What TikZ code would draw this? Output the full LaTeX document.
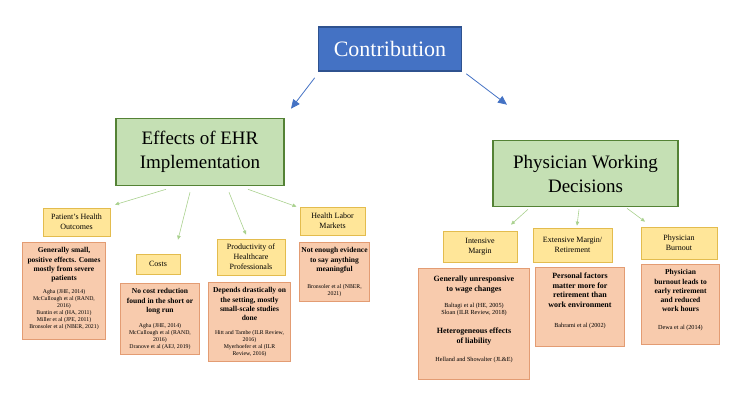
\documentclass[tikz,border=0pt]{standalone}
\usepackage{fontspec}
\setmainfont{Liberation Serif}
\usepackage{tikz}
\usetikzlibrary{positioning,arrows.meta,calc}

\definecolor{topfill}{HTML}{4472C4}
\definecolor{topline}{HTML}{2F528F}
\definecolor{areafill}{HTML}{C5E0B4}
\definecolor{arealine}{HTML}{548235}
\definecolor{topicfill}{HTML}{FFE699}
\definecolor{topicline}{HTML}{E3BC4E}
\definecolor{findfill}{HTML}{F8CBAD}
\definecolor{findline}{HTML}{E39C73}
\definecolor{greenarrow}{HTML}{A9D18E}

\tikzstyle{bline} = [draw=topfill, line width=0.8pt, -{Triangle[length=9pt,width=8pt]}]
\tikzstyle{gline} = [draw=greenarrow, line width=0.6pt, -{Triangle[length=4pt,width=3.5pt]}]

% finding texts: bold heading, small references
\newcommand{\fhead}[1]{{\bfseries\fontsize{7.5}{9.2}\selectfont #1\par}}
\newcommand{\fheadL}[1]{{\bfseries\fontsize{8}{9.8}\selectfont #1\par}}
\newcommand{\fref}[1]{{\fontsize{5.8}{7}\selectfont #1\par}}
\newcommand{\frefL}[1]{{\fontsize{6.2}{7.3}\selectfont #1\par}}
\newcommand{\findtext}[3]{\parbox[t][#2][t]{#1}{\centering\vspace*{2pt}#3}}

\begin{document}
\begin{tikzpicture}[x=1pt,y=-1pt,
  topbox/.style={draw=topline, fill=topfill, line width=1.6pt, text=white,
    font=\fontsize{22}{25}\selectfont, minimum width=143pt, minimum height=44pt},
  areabox/.style={draw=arealine, fill=areafill, line width=1.6pt, align=center,
    font=\fontsize{19}{24}\selectfont},
  topicbox/.style={draw=topicline, fill=topicfill, line width=0.7pt, align=center,
    font=\fontsize{8}{10}\selectfont, inner sep=1pt},
  findbox/.style={draw=findline, fill=findfill, line width=0.7pt, inner sep=3pt}]

\useasboundingbox (0,0) rectangle (743,417);

  \node [topbox] (contrib) at (390,49) {Contribution};

  \node [areabox, minimum width=168pt, minimum height=67pt] (ehr) at (200,152)
  {Effects of EHR\\Implementation};
  \node [areabox, minimum width=185pt, minimum height=66pt] (phys) at (585.5,173.5)
  {Physician Working\\Decisions};

  % topics under EHR
  \node [topicbox, minimum width=67pt, minimum height=28pt] (health) at (76.5,222)
  {Patient's Health\\Outcomes};
  \node [topicbox, minimum width=44pt, minimum height=20pt] (costs) at (158,264) {Costs};
  \node [topicbox, minimum width=68pt, minimum height=36pt] (prod) at (251,257)
  {Productivity of\\Healthcare\\Professionals};
  \node [topicbox, minimum width=65pt, minimum height=28pt] (labor) at (332.5,221)
  {Health Labor\\Markets};

  % topics under physician decisions
  \node [topicbox, minimum width=74pt, minimum height=31pt] (intens) at (480,246.5)
  {Intensive\\Margin};
  \node [topicbox, minimum width=79pt, minimum height=34pt] (extens) at (572.5,245)
  {Extensive Margin/\\Retirement};
  \node [topicbox, minimum width=76pt, minimum height=32pt] (burn) at (679,243)
  {Physician\\Burnout};

  % findings
  \node [findbox, below=6pt of health, xshift=-12.5pt] (fhealth)
  {\findtext{77pt}{91pt}{\fhead{Generally small,\\positive effects. Comes\\mostly from severe\\patients}\vspace{6pt}
   \fref{Agha (JHE, 2014)\\McCullough et al (RAND,\\2016)\\Buntin et al (HA, 2011)\\Miller et al (JPE, 2011)\\Bronsoler et al (NBER, 2021)}}};
  \node [findbox, below=9pt of costs, xshift=2pt] (fcosts)
  {\findtext{73pt}{65pt}{\fhead{No cost reduction\\found in the short or\\long run}\vspace{8pt}
   \fref{Agha (JHE, 2014)\\McCullough et al (RAND,\\2016)\\Dranove et al (AEJ, 2019)}}};
  \node [findbox, below=7pt of prod, xshift=-1.5pt] (fprod)
  {\findtext{76pt}{73pt}{\fhead{Depends drastically on\\the setting, mostly\\small-scale studies\\done}\vspace{7pt}
   \fref{Hitt and Tambe (ILR Review,\\2016)\\Myerhoefer et al (ILR\\Review, 2016)}}};
  \node [findbox, below=7pt of labor, xshift=2pt] (flabor)
  {\findtext{64pt}{53pt}{\fhead{\makebox[\linewidth]{Not enough evidence}\\to say anything\\meaningful}\vspace{10pt}
   \fref{Bronsoler et al (NBER,\\2021)}}};

  \node [findbox, below=6pt of intens, xshift=-6pt] (fintens)
  {\findtext{105pt}{105pt}{\vspace*{2pt}\fheadL{Generally unresponsive\\to wage changes}\vspace{9pt}
   \frefL{Baltagi et al (HE, 2005)\\Sloan (ILR Review, 2018)}\vspace{9pt}
   \fheadL{Heterogeneous effects\\of liability}\vspace{11pt}
   \frefL{Helland and Showalter (JL\&E)}}};
  \node [findbox, below=5pt of extens, xshift=7.5pt] (fextens)
  {\findtext{83pt}{73pt}{\fheadL{Personal factors\\matter more for\\retirement than\\work environment}\vspace{12pt}
   \frefL{Bahrami et al (2002)}}};
  \node [findbox, below=5pt of burn, xshift=1.5pt] (fburn)
  {\findtext{72pt}{74pt}{\fhead{Physician\\burnout leads to\\early retirement\\and reduced\\work hours}\vspace{10pt}
   \frefL{Dewa et al (2014)}}};

  \path [bline] ([xshift=-3pt,yshift=-6pt]contrib.south west) -- ([xshift=91pt,yshift=9pt]ehr.north);
  \path [bline] ([xshift=4pt,yshift=-2pt]contrib.south east) -- ([xshift=-78.5pt,yshift=35pt]phys.north);

  \path [gline] ([xshift=-34pt,yshift=-3pt]ehr.south) -- ([xshift=38.5pt,yshift=3pt]health.north);
  \path [gline] ([xshift=-10pt,yshift=-6pt]ehr.south) -- ([xshift=20pt,yshift=14pt]costs.north);
  \path [gline] ([xshift=29pt,yshift=-6pt]ehr.south) -- ([xshift=-5pt,yshift=4pt]prod.north);
  \path [gline] ([xshift=48pt,yshift=-3pt]ehr.south) -- ([xshift=-36pt,yshift=0pt]labor.north);

  \path [gline] ([xshift=-57.5pt,yshift=-2pt]phys.south) -- ([xshift=31pt,yshift=6pt]intens.north);
  \path [gline] ([xshift=-6.5pt,yshift=-2pt]phys.south) -- ([xshift=4.5pt,yshift=2pt]extens.north);
  \path [gline] ([xshift=41.5pt,yshift=-1pt]phys.south) -- ([xshift=-34pt,yshift=5pt]burn.north);

\end{tikzpicture}
\end{document}
